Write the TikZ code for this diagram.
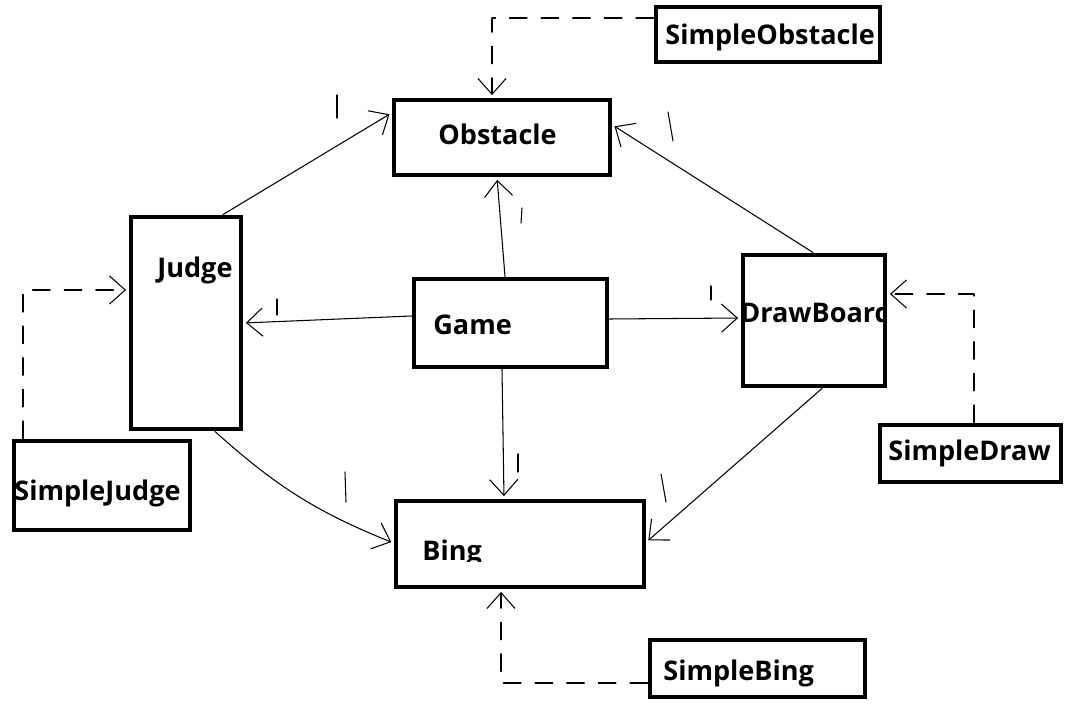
\documentclass[tikz,border=0pt]{standalone}
\usepackage{fontspec}
\setmainfont{Open Sans}
\usetikzlibrary{arrows.meta,fit}

\begin{document}
\begin{tikzpicture}[x=0.02cm, y=-0.02cm, line cap=round, line join=round,
    box/.style={draw, line width=2.8pt, line join=miter, inner sep=0pt},
    lbl/.style={anchor=base west, inner sep=0pt, font=\fontsize{15.4pt}{18pt}\selectfont\bfseries},
    uses/.style={-{Straight Barb[length=9pt,width=16pt]}, line width=0.6pt, shorten >=1.4pt},
    impl/.style={uses, dash pattern=on 10pt off 8pt},
    stroke/.style={line width=0.6pt}]
      \useasboundingbox (0,0) rectangle (1077,705);

      \node[lbl] (obstacle-l) at (438,145) {Obstacle};
      \node[lbl] (sobstacle-l) at (665,45) {SimpleObstacle};
      \node[lbl] (judge-l) at (157,278) {Judge};
      \node[lbl] (sjudge-l) at (14,500) {SimpleJudge};
      \node[lbl] (game-l) at (433,335) {Game};
      \node[lbl] (sdraw-l) at (888,460) {SimpleDraw};
      \node[lbl] (sbing-l) at (663,680) {SimpleBing};
      \begin{scope}
        \clip (700,255) rectangle (885,386);
        \node[lbl] (drawboard-l) at (740,323) {DrawBoard};
      \end{scope}
      \begin{scope}
        \clip (396,501) rectangle (644,561);
        \node[lbl] (bing-l) at (422,560) {Bing};
      \end{scope}

      \node[box, fit={(394,100) (610,175)}] (obstacle) {};
      \node[box, fit={(656,7) (880,62)}] (sobstacle) {};
      \node[box, fit={(131,217) (241,429)}] (judge) {};
      \node[box, fit={(14,441) (190,530)}] (sjudge) {};
      \node[box, fit={(414,279) (607,367)}] (game) {};
      \node[box, fit={(743,255) (885,386)}] (drawboard) {};
      \node[box, fit={(880,425) (1061,482)}] (sdraw) {};
      \node[box, fit={(396,501) (644,587)}] (bing) {};
      \node[box, fit={(650,640) (865,697)}] (sbing) {};

      \draw[uses] (judge.north -| 223,0) -- (obstacle.west |- 0,113);
      \draw[uses] (game.north -| 505,0) -- (obstacle.south -| 497,0);
      \draw[uses] (drawboard.north -| 813,0) -- (obstacle.east |- 0,125);
      \draw[uses] (game.west |- 0,316) -- (judge.east |- 0,323);
      \draw[uses] (game.east |- 0,319) -- (drawboard.west |- 0,318);
      \draw[uses] (game.south -| 502,0) -- (bing.north -| 504,0);
      \draw[uses] (judge.south -| 215,0) to[bend right=10] (bing.west |- 0,543);
      \draw[uses] (drawboard.south -| 822,0) -- (bing.east |- 0,542);

      \draw[impl] (sobstacle.west |- 0,18) -| (obstacle.north -| 492,0);
      \draw[impl] (sjudge.north -| 23,0) |- (judge.west |- 0,290);
      \draw[impl] (sdraw.north -| 974,0) |- (drawboard.east |- 0,294);
      \draw[impl] (sbing.west |- 0,683) -| (bing.south -| 501,0);

      \draw[stroke] (337,95) -- (337,118);
      \draw[stroke] (668,112) -- (673,141);
      \draw[stroke] (522,208) -- (521,223);
      \draw[stroke] (277,299) -- (277,315);
      \draw[stroke] (711,286) -- (711,300);
      \draw[stroke] (345,472) -- (346,502);
      \draw[stroke] (518,454) -- (518,472);
      \draw[stroke] (661,474) -- (666,502);

    \end{tikzpicture}
\end{document}
